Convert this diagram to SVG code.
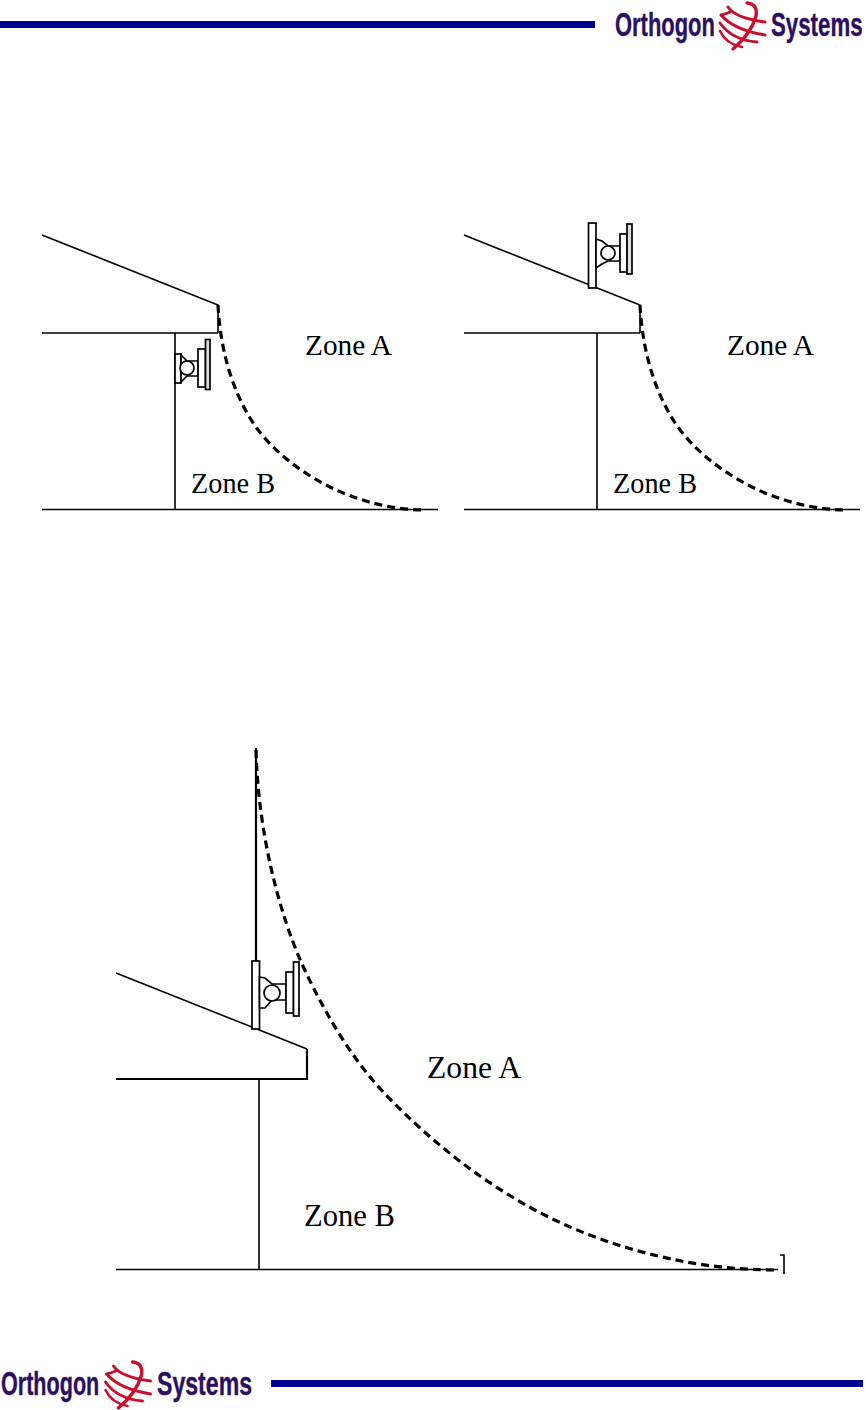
<svg xmlns="http://www.w3.org/2000/svg" xmlns:xlink="http://www.w3.org/1999/xlink" width="866" height="1410" viewBox="0 0 866 1410">
<style>
.bar{fill:#000090}
.logo{font-family:"Liberation Sans",sans-serif;font-size:34px;font-weight:bold;fill:#2a1060;stroke:#2a1060;stroke-width:.4}
.swoosh{fill:none;stroke:#c8102e;stroke-linecap:round}
.line{fill:none;stroke:#000;stroke-width:1.6}
.heavy{fill:none;stroke:#000;stroke-width:2.2}
.ant{fill:#fff;stroke:#000;stroke-width:1.7}
.plate{fill:#ddd;stroke:#000;stroke-width:1.7}
.dash{fill:none;stroke:#000;stroke-width:3.2;stroke-dasharray:8 5}
.zone{font-family:"Liberation Serif","Times New Roman",serif;fill:#000}
</style>
<defs>
<g id="globe">
<path class="swoosh" stroke-width="3.400" d="M747,3Q758,4 756,16Q751,34 733,49"/>
<path class="swoosh" stroke-width="3" d="M728,7Q735,18 765,22"/>
<path class="swoosh" stroke-width="3" d="M721,15Q726,14 730,12M721,15Q734,30 765,35"/>
<path class="swoosh" stroke-width="3" d="M720,23Q732,40 757,42"/>
<path class="swoosh" stroke-width="2.600" d="M720,31Q726,44 742,47"/>
</g>
<g id="antenna1">
<rect class="ant" x="175" y="354" width="6" height="29"/>
<path class="ant" d="M181,355L187,361L198,361L198,376L187,376L181,382Z"/>
<circle class="ant" cx="187" cy="368" r="7"/>
<rect class="ant" x="198" y="349" width="7.500" height="38"/>
<rect class="plate" x="205.500" y="339.500" width="4.500" height="50"/>
</g>
</defs>

<g id="header">
<rect class="bar" x="0" y="21" width="595" height="7"/>
<text class="logo" transform="translate(615,36) scale(.645,1)">Orthogon</text>
<use xlink:href="#globe"/>
<text class="logo" transform="translate(771,36) scale(.655,1)">Systems</text>
</g>

<g id="footer">
<rect class="bar" x="271" y="1380" width="592" height="7"/>
<text class="logo" transform="translate(1,1395) scale(.635,1)">Orthogon</text>
<use xlink:href="#globe" transform="translate(-614.500,1359)"/>
<text class="logo" transform="translate(157,1395) scale(.68,1)">Systems</text>
</g>

<g id="panel-1">
<path class="line" d="M42,235L218,305V333M42,333H218M175,333V509.500M42,509.500H438"/>
<use xlink:href="#antenna1"/>
<path class="dash" d="M218,305C220,345 230,385 250,418C268,448 300,472 330,487C360,502 395,510 425,510"/>
<text class="zone" x="305" y="355" font-size="29" textLength="87" lengthAdjust="spacingAndGlyphs">Zone A</text>
<text class="zone" x="191" y="493" font-size="29" textLength="84" lengthAdjust="spacingAndGlyphs">Zone B</text>
</g>

<g id="panel-2">
<path class="line" d="M464,235L640,305V333M464,333H640M597,333V509.500M464,509.500H860"/>
<rect class="ant" x="588.500" y="223" width="7.500" height="65"/>
<path class="ant" d="M596,239L602,241L608,246L620,246L620,261L608,261L602,264L596,268Z"/>
<circle class="ant" cx="608" cy="253" r="7"/>
<rect class="ant" x="620" y="234" width="7" height="38"/>
<rect class="plate" x="627" y="224" width="5" height="50"/>
<path class="dash" d="M640,305C642,345 652,385 672,418C690,448 722,472 752,487C782,502 817,510 847,510"/>
<text class="zone" x="727" y="355" font-size="29" textLength="87" lengthAdjust="spacingAndGlyphs">Zone A</text>
<text class="zone" x="613" y="493" font-size="29" textLength="84" lengthAdjust="spacingAndGlyphs">Zone B</text>
</g>

<g id="panel-3">
<path class="heavy" d="M256,748V961"/>
<path class="line" d="M116,973L307,1049"/>
<path class="heavy" d="M307,1049V1079H116"/>
<path class="line" d="M259,1079V1269.500M116,1269.500H778"/>
<rect class="ant" x="252" y="961" width="7.500" height="68"/>
<path class="ant" d="M259.500,977L265,978L272,984L286,984L286,1000L272,1000L265,1008L259.500,1008Z"/>
<circle class="ant" cx="272" cy="993" r="8"/>
<rect class="ant" x="286" y="972" width="7.500" height="41"/>
<rect class="ant" x="293.500" y="962" width="5.500" height="54"/>
<path class="dash" d="M256,750C258,830 278,910 302,964C324,1012 352,1060 388,1097C425,1135 465,1168 509,1195C565,1230 625,1250 681,1261C712,1267 745,1270 778,1270"/>
<path class="line" d="M780,1255H784V1274"/>
<text class="zone" x="427" y="1078" font-size="31" textLength="94" lengthAdjust="spacingAndGlyphs">Zone A</text>
<text class="zone" x="304" y="1226" font-size="31" textLength="91" lengthAdjust="spacingAndGlyphs">Zone B</text>
</g>
</svg>
